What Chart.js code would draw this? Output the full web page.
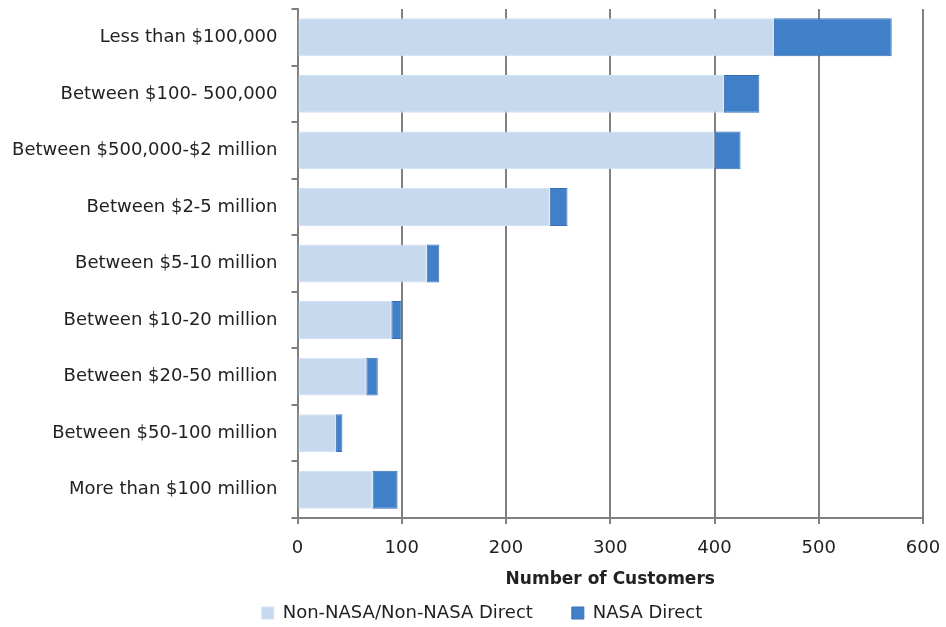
<!DOCTYPE html>
<html>
<head>
<meta charset="utf-8">
<script src="https://cdn.jsdelivr.net/npm/chart.js@4"></script>
<style>
  html, body { margin: 0; padding: 0; background: #fff; }
  #wrap { width: 946px; height: 627px; }
</style>
</head>
<body>
<div id="wrap"><canvas id="c" width="946" height="627"></canvas></div>
<script>
const categories = [
  "Less than $100,000",
  "Between $100- 500,000",
  "Between $500,000-$2 million",
  "Between $2-5 million",
  "Between $5-10 million",
  "Between $10-20 million",
  "Between $20-50 million",
  "Between $50-100 million",
  "More than $100 million"
];
const nonNasa = [457, 409, 400, 242, 124, 90, 66, 37, 72];
const nasaDirect = [113, 34, 25, 17, 12, 10, 11, 6, 24];
const seriesNames = ["Non-NASA/Non-NASA Direct", "NASA Direct"];
const xTitle = "Number of Customers";

const FONT = "'DejaVu Sans', 'Liberation Sans', sans-serif";
const LEGEND_GAP = 39;     // horizontal gap between legend items
const LEGEND_TOPGAP = 14;  // vertical gap above legend labels
const LEGEND_XSHIFT = 41;  // legend sits slightly right of page centre

const legendShift = {
  id: 'legendShift',
  afterLayout(chart) {
    if (chart.legend) {
      chart.legend.top -= (LEGEND_GAP - LEGEND_TOPGAP);
      chart.legend.left += LEGEND_XSHIFT;
    }
  }
};

new Chart(document.getElementById('c'), {
  type: 'bar',
  data: {
    labels: categories,
    datasets: [
      {
        label: seriesNames[0],
        data: nonNasa,
        backgroundColor: '#c6d9ee',
        borderColor: '#d3e2f2',
        borderWidth: 1,
        borderSkipped: false,
        categoryPercentage: 1,
        barPercentage: 0.67
      },
      {
        label: seriesNames[1],
        data: nasaDirect,
        backgroundColor: '#4080c8',
        borderColor: '#3a6fb6',
        borderWidth: 1,
        borderSkipped: false,
        categoryPercentage: 1,
        barPercentage: 0.67
      }
    ]
  },
  plugins: [legendShift],
  options: {
    indexAxis: 'y',
    responsive: false,
    animation: false,
    devicePixelRatio: 1,
    layout: { padding: { top: 9, right: 23, left: 0, bottom: 0 } },
    plugins: {
      legend: {
        position: 'bottom',
        maxHeight: 37,
        labels: {
          boxWidth: 12,
          boxHeight: 12,
          padding: LEGEND_GAP,
          color: '#222',
          font: { family: FONT, size: 18 }
        }
      },
      tooltip: { enabled: false }
    },
    scales: {
      x: {
        stacked: true,
        min: 0,
        max: 600,
        afterFit(scale) { scale.paddingRight = 0; scale.paddingLeft = 0; },
        ticks: {
          stepSize: 100,
          color: '#222',
          padding: 14,
          font: { family: FONT, size: 18 }
        },
        grid: {
          color: '#808080',
          lineWidth: 2,
          tickLength: 6,
          drawTicks: true
        },
        border: { color: '#808080', width: 2 },
        title: {
          display: true,
          text: xTitle,
          color: '#222',
          font: { family: FONT, size: 17, weight: 'bold' },
          padding: { top: -4, bottom: 0 }
        }
      },
      y: {
        stacked: true,
        afterFit(scale) {
          scale.width = 297.5;
          scale.paddingTop = 0;
          scale.paddingBottom = 0;
        },
        ticks: {
          color: '#222',
          padding: 14,
          font: { family: FONT, size: 18 }
        },
        grid: {
          drawOnChartArea: false,
          color: '#808080',
          lineWidth: 2,
          tickLength: 6
        },
        border: { color: '#808080', width: 2 }
      }
    }
  }
});
</script>
</body>
</html>
